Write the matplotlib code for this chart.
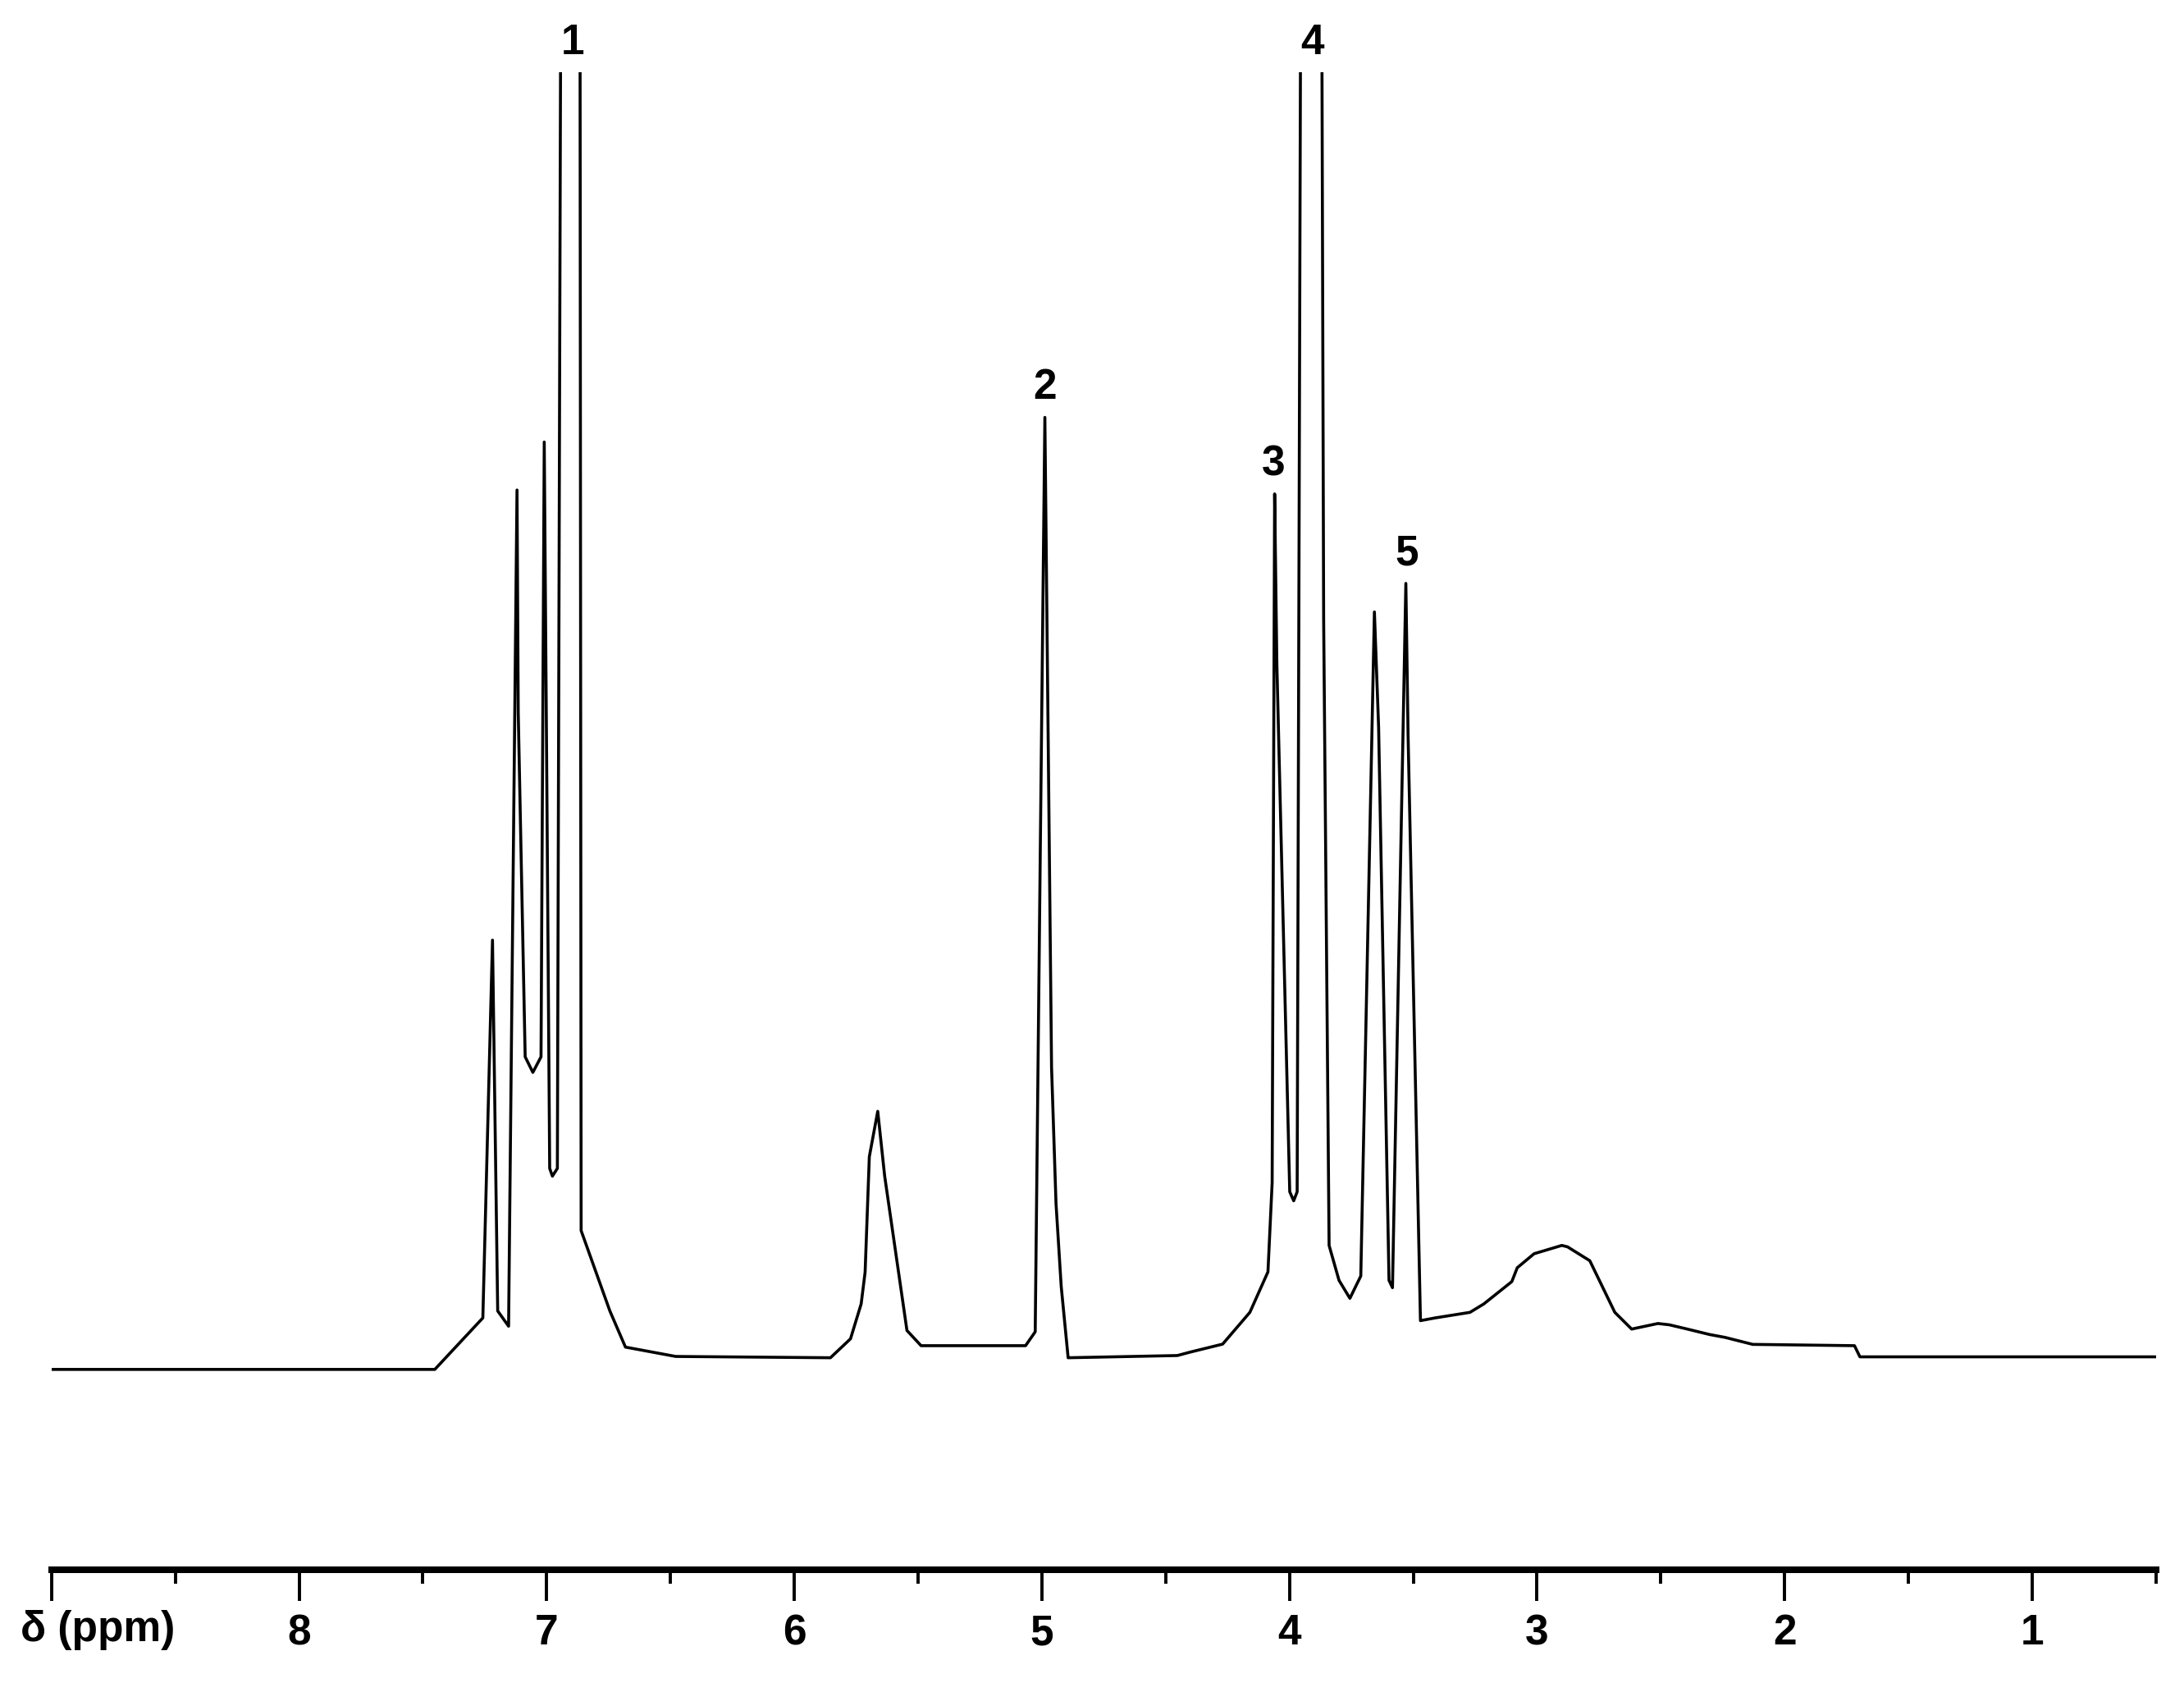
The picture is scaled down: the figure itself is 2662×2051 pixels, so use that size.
import matplotlib
matplotlib.use('Agg')
import matplotlib.pyplot as plt
import numpy as np

plt.rcParams['font.family'] = ['Liberation Sans', 'DejaVu Sans']

# chemical shift (ppm) and intensity
ppm = [9.000, 7.452, 7.258, 7.219, 7.198, 7.154, 7.120, 7.115, 7.087, 7.056,
       7.023, 7.010, 6.999, 6.988, 6.977, 6.957, 6.884, 6.861, 6.745, 6.682,
       6.479, 5.854, 5.773, 5.730, 5.714, 5.697, 5.663, 5.635, 5.545, 5.488,
       5.066, 5.027, 4.988, 4.961, 4.943, 4.922, 4.894, 4.453, 4.402, 4.270,
       4.160, 4.087, 4.070, 4.060, 4.051, 3.999, 3.983, 3.969, 3.913, 3.862,
       3.840, 3.800, 3.756, 3.712, 3.657, 3.640, 3.598, 3.584, 3.530, 3.521,
       3.471, 3.412, 3.271, 3.215, 3.102, 3.080, 3.012, 2.900, 2.877, 2.787,
       2.686, 2.618, 2.512, 2.466, 2.393, 2.303, 2.241, 2.129, 1.718, 1.696,
       0.500]
intensity = [0.0, 0.0, 3.97, 33.1, 4.51, 3.33, 67.8, 50.6, 24.1, 22.9,
             24.1, 71.5, 43.7, 15.5, 14.9, 15.5, 500.0, 10.7, 4.51, 1.72,
             1.0, 0.9, 2.36, 5.05, 7.5, 16.4, 19.9, 14.9, 3.0, 1.83,
             1.83, 2.9, 73.4, 23.3, 12.8, 6.4, 0.9, 1.07, 1.33, 1.95,
             4.40, 7.52, 14.4, 67.5, 54.4, 13.7, 13.0, 13.7, 380.0, 57.8,
             9.56, 6.87, 5.48, 7.20, 58.4, 49.5, 6.87, 6.3, 60.6, 48.9,
             3.76, 3.97, 4.40, 5.05, 6.77, 7.84, 8.92, 9.56, 9.45, 8.38,
             4.40, 3.11, 3.54, 3.44, 3.11, 2.69, 2.47, 1.93, 1.83, 0.97,
             0.97]

# peak assignment labels
label_text = ['1', '2', '3', '4', '5']
label_ppm = [6.895, 4.988, 4.065, 3.907, 3.525]

major_ticks = [1, 2, 3, 4, 5, 6, 7, 8, 9]
major_labels = ['1', '2', '3', '4', '5', '6', '7', '8', '']
minor_ticks = [0.5, 1.5, 2.5, 3.5, 4.5, 5.5, 6.5, 7.5, 8.5]

fig = plt.figure(figsize=(26.62, 20.51), dpi=100)
ax = fig.add_axes([0.0236, 0.0671, 0.9872 - 0.0236, 0.957 - 0.0671])
ax.plot(ppm, intensity, color='black', lw=2.6, solid_joinstyle='round')

ax.set_xlim(9, 0.5)
ax.set_ylim(-15.47, 100)

for s in ['top', 'left', 'right']:
    ax.spines[s].set_visible(False)
ax.spines['bottom'].set_linewidth(5.8)
ax.set_yticks([])

ax.set_xticks(major_ticks)
ax.set_xticklabels(major_labels)
ax.set_xticks(minor_ticks, minor=True)
ax.tick_params(axis='x', which='major', direction='out', length=27, width=2.8,
               pad=11, labelsize=37)
ax.tick_params(axis='x', which='minor', direction='out', length=12, width=2.8)
for t in ax.get_xticklabels():
    t.set_fontweight('bold')

ppm_arr = np.array(ppm)
int_arr = np.array(intensity)
ytop = ax.get_ylim()[1]
for txt, p in zip(label_text, label_ppm):
    mask = np.abs(ppm_arr - p) < 0.02
    h = min(int_arr[mask].max(), ytop)
    ax.annotate(txt, xy=(p, h), xytext=(0, 26), textcoords='offset points',
                ha='center', va='center', fontsize=37, fontweight='bold',
                annotation_clip=False)

fig.text(15 / 1568, 1 - 1170 / 1208, 'δ (ppm)', ha='left', va='center',
         fontsize=37, fontweight='bold')

fig.savefig('out.png', dpi=100)
